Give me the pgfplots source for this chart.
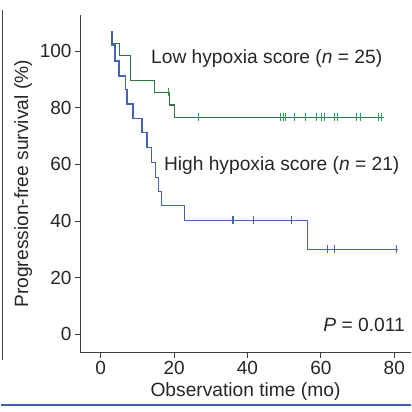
\documentclass[border=0pt]{standalone}
\usepackage{pgfplots}
\pgfplotsset{compat=1.18}
\usepackage{fontspec}
\setmainfont{Liberation Sans}
\definecolor{lowgreen}{RGB}{50,118,72}
\definecolor{lowtick}{RGB}{40,160,80}
\definecolor{highblue}{RGB}{72,98,180}
\definecolor{axgray}{RGB}{60,60,60}
\definecolor{sepblue}{RGB}{60,95,170}
\newcommand{\bigf}{\fontsize{19.2bp}{22bp}\selectfont}
\newcommand{\tickf}{\fontsize{19bp}{22bp}\selectfont}
\begin{document}
\begin{tikzpicture}
\begin{axis}[
  scale only axis,
  width=331bp, height=337.7bp,
  xmin=-5.64, xmax=84.55,
  ymin=-6.5, ymax=112.7,
  axis x line*=bottom,
  axis y line*=left,
  axis line style={axgray, line width=0.9bp},
  xtick={0,20,40,60,80},
  ytick={0,20,40,60,80,100},
  tick align=outside,
  major tick length=5bp,
  tick style={axgray, line width=0.9bp},
  /pgf/number format/assume math mode=true,
  tick label style={font=\tickf, text=black!85},
  xlabel={Observation time (mo)},
  ylabel={Progression-free survival (\%)},
  every axis x label/.style={at={(axis description cs:0.5,0)}, anchor=center, yshift=-39.3bp, font=\bigf, text=black!85},
  every axis y label/.style={at={(axis description cs:-0.172,0.5)}, anchor=center, rotate=90, font=\bigf, text=black!85},
  clip=false,
]
% High hypoxia score
\addplot[const plot, highblue, line width=1.4bp] coordinates {
(3.1,107.1) (3.1,102.1) (3.9,96.5) (5.0,91.2) (6.7,86.3) (7.2,81.3)
(8.8,76.2) (11.2,71.2) (12.6,66.0) (13.9,60.6) (14.9,55.4) (15.7,50.3)
(16.5,45.5) (22.8,40.2) (56.4,30.0) (81.1,30.0)
};
\addplot[only marks, highblue, mark=|, mark size=4bp, mark options={line width=1.1bp}] coordinates {
(35.8,40.2) (36.2,40.2) (41.6,40.2) (52.0,40.2) (61.7,30.0) (63.6,30.0) (80.5,30.0)
};
% Low hypoxia score
\addplot[const plot, lowgreen, line width=1.4bp] coordinates {
(2.9,102.6) (5.2,98.4) (8.1,89.6) (14.6,85.4) (18.8,80.9) (20.1,76.6) (77.2,76.6)
};
\addplot[only marks, lowtick, mark=|, mark size=4bp, mark options={line width=1.1bp}] coordinates {
(18.5,85.4) (26.6,76.6) (48.9,76.6) (49.9,76.6) (50.3,76.6) (52.8,76.6)
(55.7,76.6) (58.7,76.6) (60.2,76.6) (60.9,76.6) (63.7,76.6) (64.4,76.6)
(69.6,76.6) (70.9,76.6) (75.6,76.6) (76.4,76.6)
};
\node[anchor=west, font=\bigf, text=black!85, inner sep=0pt] at (axis cs:13.7,97.5) {Low hypoxia score (\textit{n} = 25)};
\node[anchor=west, font=\bigf, text=black!85, inner sep=0pt] at (axis cs:17.2,59.4) {High hypoxia score (\textit{n} = 21)};
\node[anchor=east, font=\bigf, text=black!85, inner sep=0pt] at (axis cs:82.9,3.3) {\textit{P} = 0.011};
\coordinate (O) at (rel axis cs:0,0);
\end{axis}
\draw[sepblue, line width=2bp] ([shift={(-79bp,-52.3bp)}]O) -- ([shift={(331bp,-52.3bp)}]O);
\draw[black!75, line width=1bp] ([shift={(-77.5bp,-7.3bp)}]O) -- ([shift={(-77.5bp,342.7bp)}]O);
\path[use as bounding box] ([shift={(-79bp,-59.3bp)}]O) rectangle ([shift={(331bp,352.7bp)}]O);
\end{tikzpicture}
\end{document}
